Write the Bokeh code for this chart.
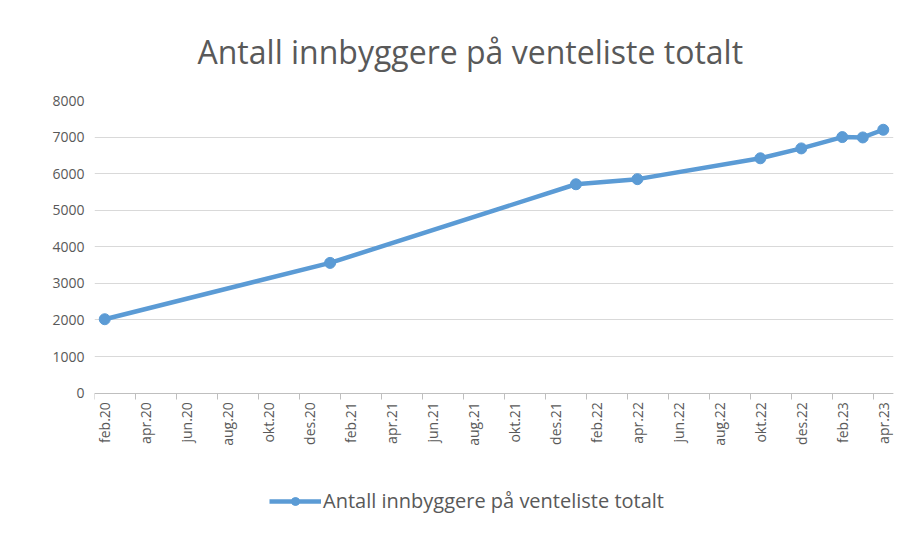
import math
from bokeh.plotting import figure
from bokeh.models import FixedTicker, Legend, LegendItem, Range1d
from bokeh.embed import file_html
from bokeh.resources import INLINE

# ---- data ----
title_text = "Antall innbyggere på venteliste totalt"
series_name = "Antall innbyggere på venteliste totalt"
point_months = ["2020-02", "2021-01", "2022-01", "2022-04", "2022-10",
                "2022-12", "2023-02", "2023-03", "2023-04"]
point_values = [2020, 3560, 5710, 5850, 6420, 6690, 7000, 6990, 7200]
tick_labels = ["feb.20", "apr.20", "jun.20", "aug.20", "okt.20", "des.20",
               "feb.21", "apr.21", "jun.21", "aug.21", "okt.21", "des.21",
               "feb.22", "apr.22", "jun.22", "aug.22", "okt.22", "des.22",
               "feb.23", "apr.23"]
y_ticks = [0, 1000, 2000, 3000, 4000, 5000, 6000, 7000, 8000]
start_year, start_month = 2020, 2


def month_index(s):
    y, m = s.split("-")
    return (int(y) - start_year) * 12 + int(m) - start_month


xs = [month_index(s) + 0.5 for s in point_months]
n_months = 2 * len(tick_labels) - 1

TEXT = "#595959"
BLUE = "#5B9BD5"
GRID = "#D9D9D9"
FONT = "Open Sans"

# layout (pixels): plot area top, zero line, bottom of frame (legend lives below the axis)
FRAME_TOP, ZERO_Y, FRAME_BOTTOM = 99, 393, 525
y_max = y_ticks[-1]
y_min = y_max - y_max * (FRAME_BOTTOM - FRAME_TOP) / (ZERO_Y - FRAME_TOP)

p = figure(width=897, height=527, output_backend="svg", toolbar_location=None,
           x_range=Range1d(0, n_months), y_range=Range1d(y_min, y_max),
           min_border_left=94, min_border_right=4, min_border_top=98,
           min_border_bottom=3)
p.outline_line_color = None

p.title.text = title_text
p.title.text_font = FONT
p.title.text_font_size = "32px"
p.title.text_font_style = "normal"
p.title.text_color = TEXT
p.title.align = "left"
p.title.offset = 103
p.title.standoff = 55

# axes
major = [2 * i + 0.5 for i in range(len(tick_labels))]
minor = [2 * i for i in range(len(tick_labels))]
p.xaxis.fixed_location = 0
p.xaxis.ticker = FixedTicker(ticks=major, minor_ticks=minor)
p.xaxis.major_label_overrides = {t: lab for t, lab in zip(major, tick_labels)}
p.xaxis.major_label_orientation = math.pi / 2
p.xaxis.major_tick_line_color = None
p.xaxis.major_tick_out = 5
p.xaxis.major_tick_in = 0
p.xaxis.minor_tick_line_color = "#BFBFBF"
p.xaxis.minor_tick_out = 6
p.xaxis.minor_tick_in = 0
p.xaxis.axis_line_color = "#BFBFBF"
p.xaxis.major_label_text_color = TEXT
p.xaxis.major_label_text_font = FONT
p.xaxis.major_label_text_font_size = "14px"
p.xaxis.major_label_standoff = 3

p.yaxis.ticker = FixedTicker(ticks=y_ticks)
p.yaxis.axis_line_color = None
p.yaxis.major_tick_line_color = None
p.yaxis.major_tick_out = 0
p.yaxis.major_tick_in = 0
p.yaxis.minor_tick_line_color = None
p.yaxis.major_label_text_color = TEXT
p.yaxis.major_label_text_font = FONT
p.yaxis.major_label_text_font_size = "14px"
p.yaxis.major_label_standoff = 10

p.xgrid.grid_line_color = None
p.ygrid.grid_line_color = GRID
p.ygrid.ticker = FixedTicker(ticks=y_ticks)

ln = p.line(xs, point_values, line_color=BLUE, line_width=4.5)
sc = p.scatter(xs, point_values, marker="circle", size=11,
               fill_color=BLUE, line_color=BLUE)

legend = Legend(items=[LegendItem(label=series_name, renderers=[ln, sc])],
                location=(175, 10), orientation="horizontal")
legend.border_line_color = None
legend.background_fill_alpha = 0
legend.label_text_color = TEXT
legend.label_text_font = FONT
legend.label_text_font_size = "20px"
legend.glyph_width = 52
legend.glyph_height = 20
legend.padding = 0
legend.margin = 0
legend.label_standoff = 2
p.add_layout(legend, "center")

open("out.html", "w").write(file_html(p, INLINE))
